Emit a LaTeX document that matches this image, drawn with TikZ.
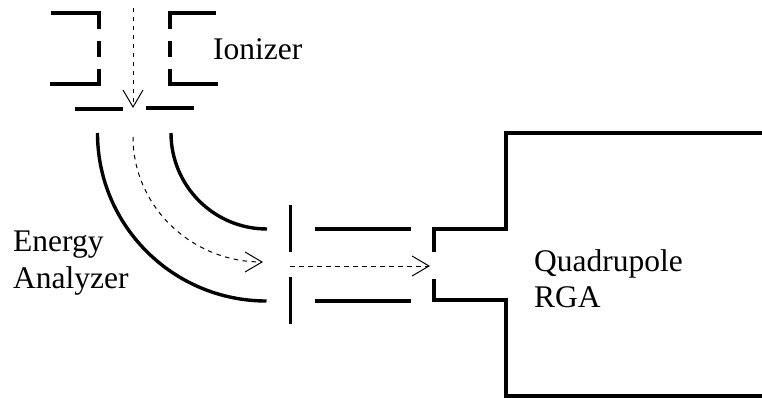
\documentclass[tikz,border=0pt]{standalone}
\usepackage{fontspec}
\setmainfont{Liberation Serif}
\usetikzlibrary{arrows.meta}

\begin{document}
\begin{tikzpicture}[
    x=1pt, y=-1pt,
    wall/.style={line width=3.4pt, line join=miter},
    plate/.style={line width=3pt},
    beam/.style={-{Straight Barb[length=17pt, width=20pt, line width=1pt]}, line width=1pt, dash pattern=on 4.5pt off 4.5pt},
    label/.style={font=\fontsize{31.5}{36}\selectfont, inner sep=0pt, anchor=base west}
]
\useasboundingbox (0,0) rectangle (762,398);

% ionizer
\draw[wall] (51,13) -| (99,29);
\draw[wall] (99,41) -- (99,57);
\draw[wall] (99,69) |- (50,84);
\draw[wall] (216,13) -| (170,29);
\draw[wall] (170,41) -- (170,57);
\draw[wall] (170,69) |- (218,84);
\draw[wall] (75,109) -- (123,109);
\draw[wall] (146,108) -- (194,108);

% energy analyzer
\draw[wall] (97.5,133) arc[start angle=180, end angle=90, x radius=169, y radius=168];
\draw[wall] (171,133) arc[start angle=180, end angle=90, radius=96];

% lens and tube
\draw[plate] (290,205) -- (290,252);
\draw[plate] (290,277) -- (290,324);
\draw[wall] (315,229) -- (411,229);
\draw[wall] (315,301) -- (411,301);

% quadrupole housing
\draw[wall] (434,252) |- (506,229) |- (762,133);
\draw[wall] (434,279) |- (506,300) |- (762,396);

% ion paths
\coordinate (source) at (133,8);
\coordinate (slit) at (133,108);
\coordinate (bendstart) at (133,137);
\coordinate (lens) at (290,266);
\coordinate (entrance) at (430,266);
\draw[beam] (source) -- (slit);
\draw[beam] (bendstart) arc[start angle=180, end angle=90, x radius=130, y radius=125];
\draw[beam] (lens) -- (entrance);

\node[label] (ionizer) at (213,60) {Ionizer};
\node[label] (energy) at (13,251) {Energy};
\node[label] (analyzer) at (13,288) {Analyzer};
\node[label] (quad) at (534,271.5) {Quadrupole};
\node[label] (rga) at (534,307) {RGA};
\end{tikzpicture}
\end{document}
